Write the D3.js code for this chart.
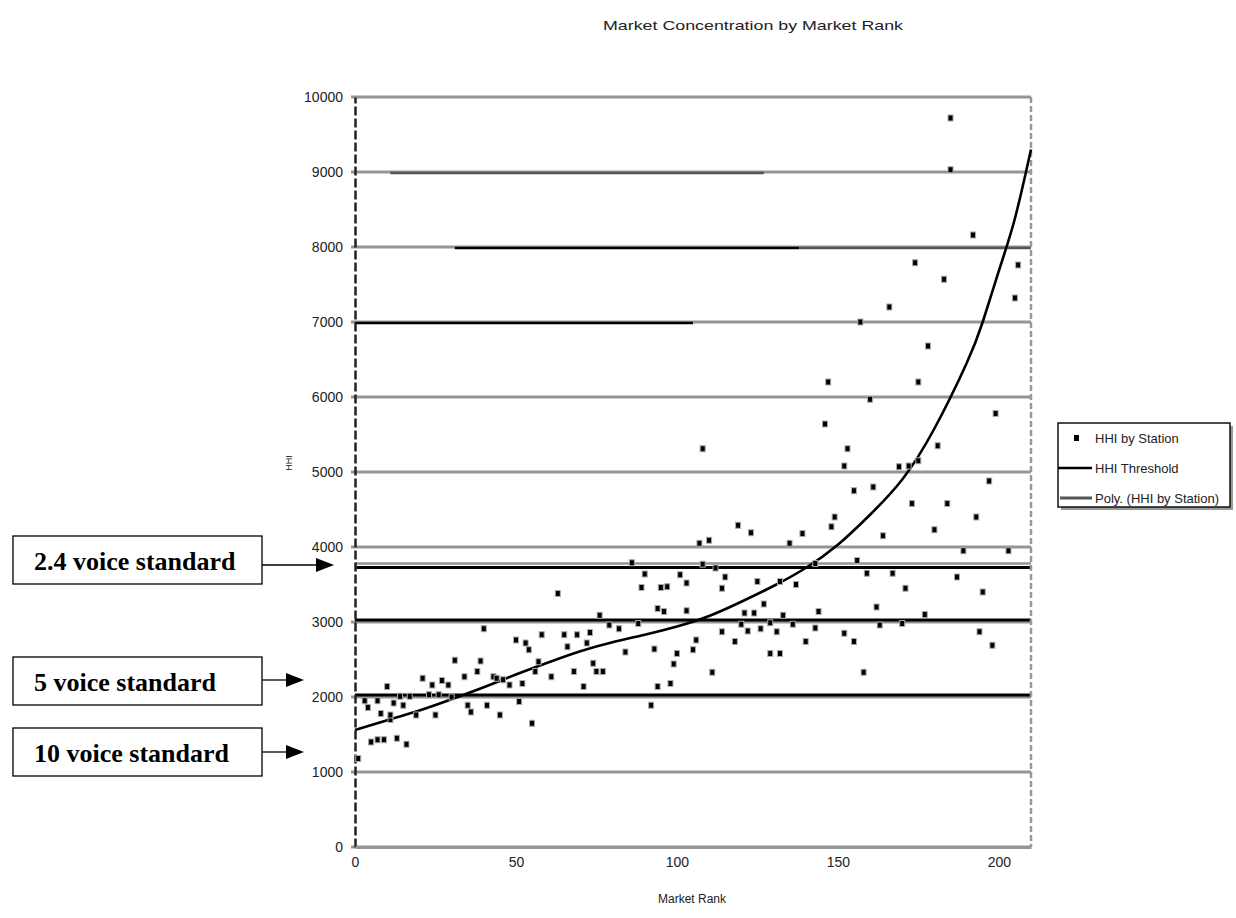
<!DOCTYPE html>
<html>
<head>
<meta charset="utf-8">
<script src="https://cdn.jsdelivr.net/npm/d3@7/dist/d3.min.js"></script>
<style>
  html, body { margin: 0; padding: 0; background: #fff; }
  svg { display: block; }
</style>
</head>
<body>
<svg id="chart" width="1236" height="918"></svg>
<script>
// ---- data ----------------------------------------------------------------
const chartTitle = "Market Concentration by Market Rank";
const xTitle = "Market Rank";
const yTitle = "HHI";
const xTicks = [0, 50, 100, 150, 200];
const yTicks = [0, 1000, 2000, 3000, 4000, 5000, 6000, 7000, 8000, 9000, 10000];

// HHI by Station: market rank and HHI of each market
const stationRank = [1,3,4,5,7,7,8,9,10,11,11,12,13,14,15,16,17,19,21,23,24,25,26,27,29,30,31,34,35,36,38,39,40,41,43,44,45,46,48,50,51,52,53,54,55,56,57,58,61,63,65,66,68,69,71,72,73,74,75,76,77,79,82,84,86,88,89,90,92,93,94,94,95,96,97,98,99,100,101,103,103,105,106,107,108,108,110,111,112,114,114,115,118,119,120,121,122,123,124,125,126,127,129,129,131,132,132,133,135,136,137,139,140,143,143,144,146,147,148,149,152,152,153,155,155,156,157,158,159,160,161,162,163,164,166,167,169,170,171,172,173,174,175,175,177,178,180,181,183,184,185,185,187,189,192,193,194,195,197,198,199,203,205,206];
const stationHHI = [1180,1950,1860,1400,1950,1430,1780,1430,2140,1700,1760,1920,1450,2010,1890,1370,2010,1760,2250,2030,2160,1760,2030,2220,2160,2000,2490,2270,1890,1800,2340,2480,2910,1890,2270,2250,1760,2230,2160,2760,1940,2180,2720,2630,1650,2340,2470,2830,2270,3380,2830,2670,2340,2830,2140,2720,2860,2450,2340,3090,2340,2960,2910,2600,3790,2980,3460,3640,1890,2640,2140,3180,3460,3140,3470,2180,2440,2580,3630,3150,3520,2630,2760,4050,5310,3770,4090,2330,3720,3450,2870,3600,2740,4290,2970,3120,2880,4190,3120,3540,2910,3240,2990,2580,2870,3540,2580,3090,4050,2970,3500,4180,2740,3780,2920,3140,5640,6200,4270,4400,2850,5080,5310,2740,4750,3820,7000,2330,3650,5970,4800,3200,2960,4150,7200,3650,5070,2980,3450,5080,4580,7790,6200,5150,3100,6680,4230,5350,7570,4580,9030,9720,3600,3950,8160,4400,2870,3400,4880,2690,5780,3950,7320,7760];

// HHI Threshold levels
const thresholds = [2000, 3000, 3700];

// Poly. (HHI by Station): trend curve values at these ranks
const trendRank = [0, 10, 20, 30, 40, 50, 60, 70, 80, 90, 100, 110, 120, 130, 140, 150, 160, 170, 180, 190, 195, 200, 205, 210];
const trendHHI  = [1560, 1690, 1820, 1970, 2130, 2300, 2460, 2610, 2730, 2830, 2940, 3080, 3270, 3480, 3720, 4030, 4430, 4900, 5580, 6450, 7000, 7680, 8380, 9300];

const legendItems = ["HHI by Station", "HHI Threshold", "Poly. (HHI by Station)"];
const callouts = ["2.4 voice standard", "5 voice standard", "10 voice standard"];

// ---- layout --------------------------------------------------------------
const SANS = "Arial, 'Liberation Sans', sans-serif";
const SERIF = "'Liberation Serif', 'Times New Roman', serif";
const svg = d3.select("#chart").style("font-family", SANS);
const plot = { left: 355, right: 1031, top: 97, bottom: 847 };

const x = d3.scaleLinear().domain([0, 210]).range([plot.left, plot.right]);
const y = d3.scaleLinear().domain([0, 10000]).range([plot.bottom, plot.top]);

const GRID = "#959595";

// title
svg.append("text")
  .attr("x", 753).attr("y", 30)
  .attr("text-anchor", "middle")
  .attr("font-size", 13)
  .attr("textLength", 300).attr("lengthAdjust", "spacingAndGlyphs")
  .attr("fill", "#222")
  .text(chartTitle);

// horizontal gridlines
const grid = svg.append("g");
grid.selectAll("line.grid")
  .data(yTicks)
  .join("line")
  .attr("class", "grid")
  .attr("x1", x(0) - 4).attr("x2", x(210))
  .attr("y1", d => y(d)).attr("y2", d => y(d))
  .attr("stroke", GRID).attr("stroke-width", 3);

// darker runs along some gridlines
const darkRuns = [
  { v: 9000, a: 11, b: 127, c: "#555" },
  { v: 8000, a: 31, b: 138, c: "#000" },
  { v: 8000, a: 138, b: 210, c: "#555" },
  { v: 7000, a: 0, b: 105, c: "#000" }
];
grid.selectAll("line.dark")
  .data(darkRuns)
  .join("line")
  .attr("class", "dark")
  .attr("x1", d => x(d.a)).attr("x2", d => x(d.b))
  .attr("y1", d => y(d.v) + 1).attr("y2", d => y(d.v) + 1)
  .attr("stroke", d => d.c).attr("stroke-width", 2.5);

// threshold lines
svg.append("line")
  .attr("x1", x(0)).attr("x2", x(210))
  .attr("y1", y(thresholds[2]) - 6).attr("y2", y(thresholds[2]) - 6)
  .attr("stroke", GRID).attr("stroke-width", 2.5);
svg.append("g").selectAll("line")
  .data(thresholds)
  .join("line")
  .attr("x1", x(0)).attr("x2", x(210))
  .attr("y1", d => y(d) - 2).attr("y2", d => y(d) - 2)
  .attr("stroke", "#000").attr("stroke-width", 3);

// axes
const yAxis = d3.axisLeft(y).tickValues(yTicks).tickFormat(d3.format("d")).tickSize(0).tickPadding(12);
const gy = svg.append("g").attr("transform", `translate(${plot.left},0)`).call(yAxis);
gy.attr("font-family", SANS);
gy.select(".domain").attr("stroke", "#222").attr("stroke-width", 2.5).attr("stroke-dasharray", "9,3");
gy.selectAll("text").attr("font-size", 14).attr("fill", "#222");

const xAxis = d3.axisBottom(x).tickValues(xTicks).tickFormat(d3.format("d")).tickSize(0).tickPadding(10);
const gx = svg.append("g").attr("transform", `translate(0,${plot.bottom})`).call(xAxis);
gx.attr("font-family", SANS);
gx.select(".domain").attr("stroke", GRID).attr("stroke-width", 3);
gx.selectAll("text").attr("font-size", 14).attr("fill", "#222");

// right border
svg.append("line")
  .attr("x1", plot.right).attr("x2", plot.right)
  .attr("y1", plot.top).attr("y2", plot.bottom)
  .attr("stroke", "#999").attr("stroke-width", 2.5)
  .attr("stroke-dasharray", "6,3");

// axis titles
svg.append("text")
  .attr("x", 692).attr("y", 903)
  .attr("text-anchor", "middle").attr("font-size", 12)
  .attr("fill", "#222")
  .text(xTitle);
svg.append("text")
  .attr("transform", "translate(292,463) rotate(-90)")
  .attr("text-anchor", "middle").attr("font-size", 9)
  .attr("fill", "#222")
  .text(yTitle);

// trend curve
const trend = d3.zip(trendRank, trendHHI);
svg.append("path")
  .datum(trend)
  .attr("fill", "none").attr("stroke", "#000").attr("stroke-width", 2.6)
  .attr("d", d3.line().x(d => x(d[0])).y(d => y(d[1])).curve(d3.curveNatural));

// scatter points
const pts = d3.zip(stationRank, stationHHI);
svg.append("g").selectAll("rect")
  .data(pts)
  .join("rect")
  .attr("x", d => x(d[0]) - 2.5).attr("y", d => y(d[1]) - 3)
  .attr("width", 5).attr("height", 6)
  .attr("fill", "#000").attr("stroke", "#aaa").attr("stroke-width", 1);

// legend
const lg = svg.append("g").attr("transform", "translate(1058,423)");
lg.append("rect").attr("x", 3).attr("y", 3).attr("width", 172).attr("height", 84).attr("fill", "#999");
lg.append("rect").attr("width", 172).attr("height", 84).attr("fill", "#fff")
  .attr("stroke", "#111").attr("stroke-width", 1.5);
const li = lg.selectAll("g.item").data(legendItems).join("g")
  .attr("class", "item")
  .attr("transform", (d, i) => `translate(0,${15 + i * 30})`);
li.append("text").attr("x", 37).attr("y", 5).attr("font-size", 13)
  .attr("fill", "#222").text(d => d);
li.filter((d, i) => i === 0).append("rect")
  .attr("x", 16).attr("y", -3).attr("width", 5).attr("height", 6).attr("fill", "#000");
li.filter((d, i) => i === 1).append("line")
  .attr("x1", 0).attr("x2", 34).attr("y1", 0).attr("y2", 0)
  .attr("stroke", "#000").attr("stroke-width", 2.5);
li.filter((d, i) => i === 2).append("line")
  .attr("x1", 2).attr("x2", 34).attr("y1", 0).attr("y2", 0)
  .attr("stroke", "#555").attr("stroke-width", 3);

// callout boxes with arrows
const boxes = [
  { top: 536, arrowY: 565, tip: 334 },
  { top: 657, arrowY: 680, tip: 304 },
  { top: 728, arrowY: 752, tip: 304 }
];
const cg = svg.append("g").selectAll("g").data(callouts).join("g");
cg.append("rect")
  .attr("x", 13).attr("y", (d, i) => boxes[i].top)
  .attr("width", 249).attr("height", 48)
  .attr("fill", "#fff").attr("stroke", "#000").attr("stroke-width", 1.3);
cg.append("text")
  .attr("x", 34).attr("y", (d, i) => boxes[i].top + 34)
  .style("font-family", SERIF)
  .attr("font-weight", "bold").attr("font-size", 26)
  .attr("fill", "#000")
  .text(d => d);
cg.append("line")
  .attr("x1", 262).attr("x2", (d, i) => boxes[i].tip - 16)
  .attr("y1", (d, i) => boxes[i].arrowY).attr("y2", (d, i) => boxes[i].arrowY)
  .attr("stroke", "#000").attr("stroke-width", 1.3);
cg.append("path")
  .attr("d", (d, i) => {
    const b = boxes[i];
    return `M${b.tip},${b.arrowY} L${b.tip - 18},${b.arrowY - 7} L${b.tip - 18},${b.arrowY + 7} Z`;
  })
  .attr("fill", "#000");
</script>
</body>
</html>
